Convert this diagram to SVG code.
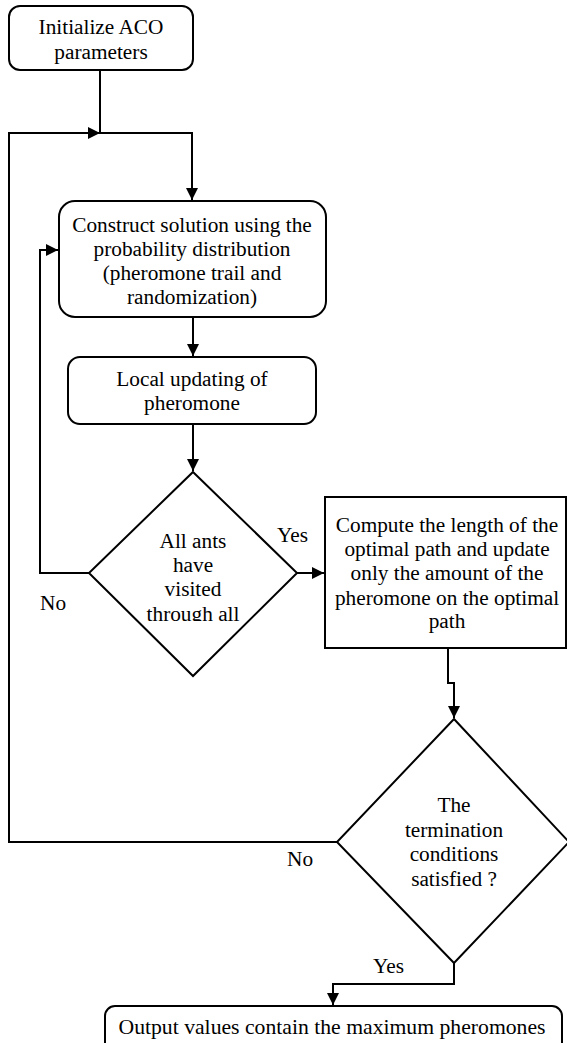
<svg xmlns="http://www.w3.org/2000/svg" width="567" height="1043" viewBox="0 0 567 1043">
<style>
.box{fill:#fff;stroke:#000;stroke-width:2}
.ln{fill:none;stroke:#000;stroke-width:2}
text{font-family:"Liberation Serif","Times New Roman",serif;font-size:21.3px;fill:#000;text-anchor:middle}
.lbl{text-anchor:start}
</style>
<defs>
<marker id="ah" viewBox="0 0 12 12" refX="12" refY="6" markerWidth="12" markerHeight="12" markerUnits="userSpaceOnUse" orient="auto">
<path d="M0,0 L12,6 L0,12 Z" fill="#000"/>
</marker>
<clipPath id="dclip"><rect x="0" y="0" width="567" height="621"/></clipPath>
</defs>
<rect width="567" height="1043" fill="#fff"/>
<g id="connectors">
<path class="ln" d="M100,70 V133 H192 V200" marker-end="url(#ah)"/>
<path class="ln" d="M337,842 H9 V133 H100" marker-end="url(#ah)"/>
<path class="ln" d="M193,317 V356" marker-end="url(#ah)"/>
<path class="ln" d="M193,424 V471" marker-end="url(#ah)"/>
<path class="ln" d="M89,573 H40 V250 H58" marker-end="url(#ah)"/>
<path class="ln" d="M297,573 H324" marker-end="url(#ah)"/>
<path class="ln" d="M448,648 V683 H454 V718" marker-end="url(#ah)"/>
<path class="ln" d="M454,963 V984 H333 V1005" marker-end="url(#ah)"/>
</g>
<g id="n1">
<rect class="box" x="9" y="6" width="184" height="64" rx="11"/>
<text x="101" y="34">Initialize ACO</text>
<text x="101" y="59">parameters</text>
</g>
<g id="n2">
<rect class="box" x="59" y="201" width="267" height="116" rx="16"/>
<text x="192" y="232">Construct solution using the</text>
<text x="192" y="256">probability distribution</text>
<text x="192" y="280">(pheromone trail and</text>
<text x="192" y="304">randomization)</text>
</g>
<g id="n3">
<rect class="box" x="68" y="357" width="248" height="67" rx="12"/>
<text x="192" y="386">Local updating of</text>
<text x="192" y="410">pheromone</text>
</g>
<g id="d1">
<polygon class="box" points="193,472 297,573 193,676 89,573"/>
<g clip-path="url(#dclip)">
<text x="193" y="548">All ants</text>
<text x="193" y="572">have</text>
<text x="193" y="596">visited</text>
<text x="193" y="621">through all</text>
</g>
<text class="lbl" x="277" y="542">Yes</text>
<text class="lbl" x="40" y="610">No</text>
</g>
<g id="n4">
<rect class="box" x="325" y="497" width="241" height="151"/>
<text x="447" y="532">Compute the length of the</text>
<text x="447" y="556">optimal path and update</text>
<text x="447" y="580">only the amount of the</text>
<text x="447" y="605">pheromone on the optimal</text>
<text x="447" y="628">path</text>
</g>
<g id="d2">
<polygon class="box" points="454,719 569,842 454,963 337,842"/>
<text x="454" y="812">The</text>
<text x="454" y="837">termination</text>
<text x="454" y="861">conditions</text>
<text x="454" y="886">satisfied ?</text>
<text class="lbl" x="287" y="866">No</text>
<text class="lbl" x="373" y="973">Yes</text>
</g>
<g id="n5">
<rect class="box" x="105" y="1006" width="457" height="60" rx="10"/>
<text x="332" y="1034" style="font-size:21.7px">Output values contain the maximum pheromones</text>
</g>
</svg>
